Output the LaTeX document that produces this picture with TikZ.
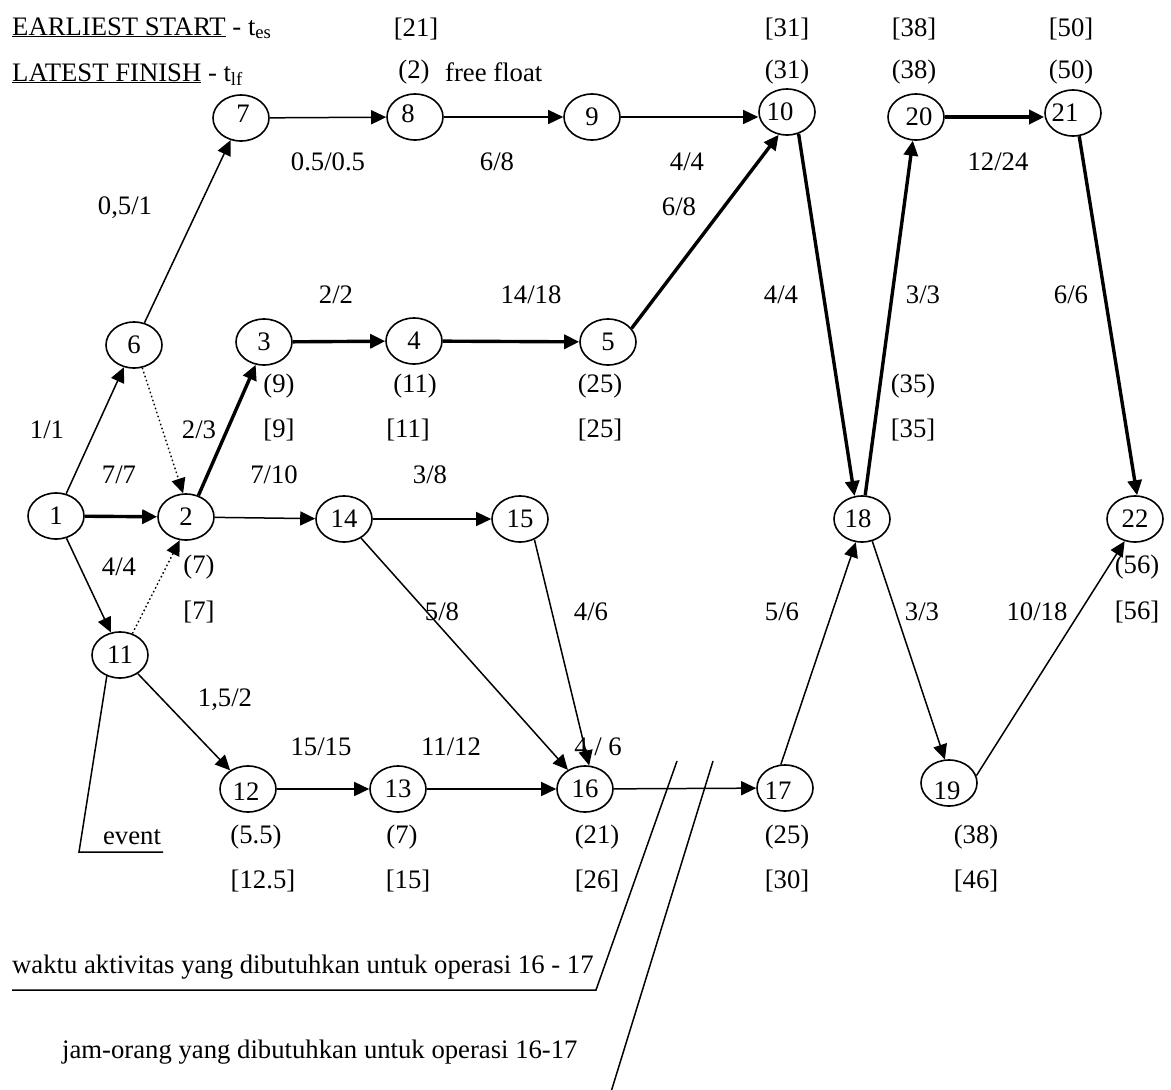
\documentclass[tikz,border=0pt]{standalone}
\usepackage{fontspec}
\setmainfont{Liberation Serif}
\usetikzlibrary{arrows.meta,shapes.geometric}
% number inside an event circle, nudged by (dx,dy) without changing its box
\newcommand\evtxt[3]{\kern#1pt\raisebox{#2pt}[\height][\depth]{#3}\kern-#1pt}
\begin{document}
\begin{tikzpicture}[x=1pt,y=-1pt,
  every node/.style={font=\fontsize{26.7}{32}\selectfont, inner sep=0pt},
  ev/.style={ellipse, draw, line width=1.6pt, minimum width=56pt, minimum height=46pt},
  tip/.style={-{Triangle[length=15pt,width=14pt]}},
  thinedge/.style={tip, line width=1.5pt},
  critical/.style={tip, line width=3.4pt},
  dummy/.style={tip, line width=1.4pt, dash pattern=on 1.6pt off 2.6pt},
  callout/.style={line width=1.5pt}]
\useasboundingbox (0,0) rectangle (1171,1090);

% legend
\node[anchor=base west] (hes) at (12,35) {\underline{EARLIEST START} - t\textsubscript{es}};
\node[anchor=base west] (hlf) at (12,81) {\underline{LATEST FINISH} - t\textsubscript{lf}};
\node (k21) at (416,29) {[21]};
\node (k2) at (414,72) {(2)};
\node[anchor=west] (kff) at (445,72) {free float};

% events
\node[ev] (n1) at (56,516) {1};
\node[ev] (n2) at (186,517) {2};
\node[ev] (n3) at (264,342) {3};
\node[ev] (n4) at (414,341) {4};
\node[ev] (n5) at (608,342) {5};
\node[ev] (n6) at (134,345) {6};
\node[ev] (n7) at (241,118) {\evtxt{2}{4}{7}};
\node[ev] (n8) at (415,117) {\evtxt{-7}{3}{8}};
\node[ev] (n9) at (592,117) {9};
\node[ev] (n10) at (787,112) {\evtxt{-7}{0}{10}};
\node[ev] (n11) at (120,655) {11};
\node[ev] (n12) at (248,789) {\evtxt{-2}{-3}{12}};
\node[ev] (n13) at (398,789) {13};
\node[ev] (n14) at (344,519) {14};
\node[ev] (n15) at (520,519) {15};
\node[ev] (n16) at (585,789) {16};
\node[ev] (n17) at (785,788) {\evtxt{-7}{-3}{17}};
\node[ev] (n18) at (862,519) {\evtxt{-4}{0}{18}};
\node[ev] (n19) at (949,783) {\evtxt{-2}{-8}{19}};
\node[ev] (n20) at (916,117) {\evtxt{3}{0}{20}};
\node[ev] (n21) at (1073,113) {\evtxt{-8}{0}{21}};
\node[ev] (n22) at (1135,519) {22};

% event times: [t_es] and (t_lf)
\node (e10a) at (787,29) {[31]};
\node (e10b) at (787,72) {(31)};
\node (e20a) at (914,29) {[38]};
\node (e20b) at (914,72) {(38)};
\node (e21a) at (1071,29) {[50]};
\node (e21b) at (1071,72) {(50)};
\node (e3b) at (279,386) {(9)};
\node (e4b) at (415,386) {(11)};
\node (e5b) at (600,386) {(25)};
\node (e18b) at (913,386) {(35)};
\node (e3a) at (279,430) {[9]};
\node (e4a) at (408,430) {[11]};
\node (e5a) at (600,430) {[25]};
\node (e18a) at (913,430) {[35]};
\node (e2b) at (199,567) {(7)};
\node (e2a) at (199,612) {[7]};
\node (e22b) at (1137,567) {(56)};
\node (e22a) at (1137,612) {[56]};
\node (e12b) at (256,837) {(5.5)};
\node (e13b) at (402,837) {(7)};
\node (e16b) at (597,837) {(21)};
\node (e17b) at (787,837) {(25)};
\node (e19b) at (976,837) {(38)};
\node (e12a) at (263,881) {[12.5]};
\node (e13a) at (408,881) {[15]};
\node (e16a) at (597,881) {[26]};
\node (e17a) at (787,881) {[30]};
\node (e19a) at (976,881) {[46]};

% activity durations
\node (a67) at (125,208) {0,5/1};
\node (a78) at (328,162) {0.5/0.5};
\node (a89) at (497,162) {6/8};
\node (a910) at (687,162) {4/4};
\node (a2021) at (998,162) {12/24};
\node (a510) at (679,207) {6/8};
\node (a23) at (336,295) {2/2};
\node (a45) at (531,295) {14/18};
\node (a1018) at (781,295) {4/4};
\node (a1820) at (923,295) {3/3};
\node (a2122) at (1071,295) {6/6};
\node (a16) at (47,430) {1/1};
\node (a34) at (199,430) {2/3};
\node (a12) at (119,475) {7/7};
\node (a214) at (274,475) {7/10};
\node (a1415) at (430,475) {3/8};
\node (a111) at (119,567) {4/4};
\node (a1416) at (442,612) {5/8};
\node (a1516) at (591,612) {4/6};
\node (a1718) at (782,612) {5/6};
\node (a1819) at (922,612) {3/3};
\node (a1922) at (1037,612) {10/18};
\node (a1112) at (225,700) {1,5/2};
\node (a1213) at (321,747) {15/15};
\node (a1316) at (451,747) {11/12};
\node (a1516b) at (598,747) {4 / 6};

% activities
\draw[thinedge] (n1) -- (n6);
\draw[thinedge] (n6) -- (n7);
\draw[dummy] (n6.-70) -- (n2.97);
\draw[critical] (n1) -- (n2);
\draw[thinedge] (n1) -- (n11.112);
\draw[dummy] (n11.60) -- (n2.-105);
\draw[critical] (n2.60) -- (n3.-110);
\draw[critical] (n3) -- (n4);
\draw[critical] (n4) -- (n5);
\draw[critical] (n5.30) -- (n10.-110);
\draw[thinedge] (n7) -- (n8);
\draw[thinedge] (n8) -- (n9);
\draw[thinedge] (n9) -- (n9 -| n10.west);
\draw[thinedge] (n2) -- (n14);
\draw[thinedge] (n14) -- (n15);
\draw[thinedge] (n14) -- (n16);
\draw[thinedge] (n15.-55) -- (n16.80);
\draw[thinedge] (n11) -- (n12);
\draw[thinedge] (n12) -- (n13);
\draw[thinedge] (n13) -- (n16);
\draw[thinedge] (n16) -- (n17);
\draw[thinedge] (n17.100) -- (n18.-105);
\draw[critical] (n10.-62) -- (n18.108);
\draw[critical] (n18) -- (n20);
\draw[critical] (n20) -- (n20 -| n21.west);
\draw[critical] (n21.-75) -- (n22.85);
\draw[thinedge] (n18.-65) -- (n19.100);
\draw[thinedge] (n19.15) -- (n22.-115);

% callouts
\node (tev) at (132,837) {event};
\coordinate (ev0) at (79,852);
\coordinate (ev1) at (163,852);
\draw[callout] (n11.-122) -- (ev0) -- (ev1);

\node[anchor=base west] (twk) at (12,973) {waktu aktivitas yang dibutuhkan untuk operasi 16 - 17};
\coordinate (w0) at (12,990);
\coordinate (w1) at (596,990);
\coordinate (w2) at (677,761);
\draw[callout] (w0) -- (w1) -- (w2);

\node[anchor=base west] (tjo) at (62,1058) {jam-orang yang dibutuhkan untuk operasi 16-17};
\coordinate (j0) at (611,1092);
\coordinate (j1) at (713,761);
\draw[callout] (j0) -- (j1);
\end{tikzpicture}
\end{document}
